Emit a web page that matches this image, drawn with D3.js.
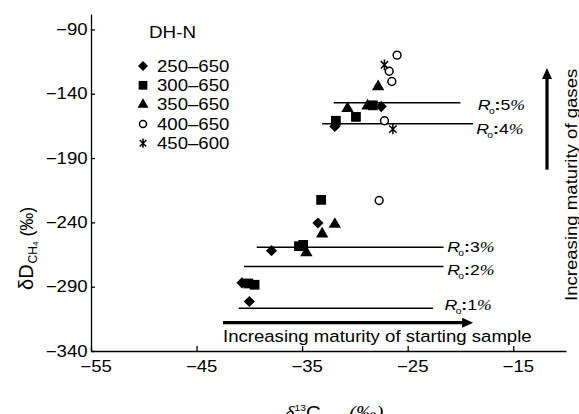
<!DOCTYPE html>
<html>
<head>
<meta charset="utf-8">
<script src="https://cdn.jsdelivr.net/npm/d3@7"></script>
<style>
  body { margin: 0; background: #fff; }
  svg { display: block; font-family: Arial, "Liberation Sans", sans-serif; }
</style>
</head>
<body>
<div id="chart"></div>
<script>
// series names (legend) and their points [δ13C, δD]
var seriesNames = ["250\u2013650", "300\u2013650", "350\u2013650", "400\u2013650", "450\u2013600"];
var s250 = [[-31.9, -165.5], [-27.5, -150], [-33.5, -240.5], [-37.9, -262], [-40.7, -287], [-40.0, -301.5]];
var s300 = [[-31.8, -161], [-29.9, -158], [-28.3, -149], [-33.2, -222.5], [-35.3, -258.5], [-34.9, -257.5], [-40.1, -287.5], [-39.5, -288.5]];
var s350 = [[-30.7, -151.5], [-28.8, -149.5], [-27.8, -134.5], [-31.9, -241.5], [-33.1, -249], [-34.6, -263.5]];
var s400 = [[-26.0, -110], [-26.75, -122.5], [-26.5, -130.5], [-27.2, -161], [-27.7, -223]];
var s450 = [[-27.2, -117.5], [-26.4, -167.5]];

// Ro iso-maturity lines
var roNames = ["5", "4", "3", "2", "1"];
var roY = [-147, -163.3, -259.3, -274.3, -306.7];
var roX1 = [-32.0, -33.1, -39.3, -40.5, -41.0];
var roX2 = [-20.0, -18.8, -21.6, -21.6, -22.6];
var roLabelX = [-18.35, -18.5, -21.25, -21.25, -21.5];
var roLabelY = [-152.3, -171, -262.7, -280.8, -308.1];

// axis ticks
var xTicks = [-55, -45, -35, -25, -15];
var yTicks = [-340, -290, -240, -190, -140, -90];

// annotation arrows (data units)
var startArrow = { x1: -42.5, x2: -18.8, y: -318 };
var gasArrow = { x: -11.8, y1: -199, y2: -120 };

var W = 579, H = 414;
var SX = 1.14; // glyphs in the figure are a bit wide
var svg = d3.select("#chart").append("svg").attr("width", W).attr("height", H);

var x = d3.scaleLinear().domain([-55, -10]).range([91, 566]);
var y = d3.scaleLinear().domain([-340, -78]).range([351, 14]);

function wide(sel) {
    sel.each(function () {
        var t = d3.select(this);
        var tx = +t.attr("x") || 0, ty = +t.attr("y") || 0;
        t.attr("x", null).attr("y", null)
            .attr("transform", "translate(" + tx + "," + ty + ") scale(" + SX + ",1)");
    });
}

// axes
var xAxis = d3.axisBottom(x).tickValues(xTicks).tickSizeInner(-5).tickSizeOuter(0).tickPadding(9);
var yAxis = d3.axisLeft(y).tickValues(yTicks).tickSizeInner(-4).tickSizeOuter(0).tickPadding(3);

var gx = svg.append("g").attr("transform", "translate(0," + y(-340) + ")").call(xAxis);
var gy = svg.append("g").attr("transform", "translate(" + x(-55) + ",0)").call(yAxis);
[gx, gy].forEach(function (g) {
    g.selectAll("path, line").attr("stroke", "#000").attr("stroke-width", 1.3);
    g.selectAll("text").attr("font-size", 16.3).attr("fill", "#000")
        .attr("font-family", "Arial, 'Liberation Sans', sans-serif");
});
gx.selectAll("text").attr("dx", 4);
gy.selectAll("text").attr("transform", "scale(" + SX + ",1)");
gx.selectAll("text").attr("transform", "scale(" + SX + ",1)");

// Ro lines
var roG = svg.append("g");
roNames.forEach(function (n, i) {
    roG.append("line")
        .attr("x1", x(roX1[i])).attr("x2", x(roX2[i]))
        .attr("y1", y(roY[i])).attr("y2", y(roY[i]))
        .attr("stroke", "#000").attr("stroke-width", 1.5);
    var t = roG.append("text").attr("x", x(roLabelX[i])).attr("y", y(roLabelY[i]))
        .attr("font-size", 15.5);
    t.append("tspan").attr("font-style", "italic").text("R");
    t.append("tspan").attr("font-size", 9).attr("dx", -1.5).attr("dy", 4).text("o");
    t.append("tspan").attr("dy", -4).attr("font-weight", "bold").text(":");
    t.append("tspan").text(n);
    t.append("tspan").attr("font-family", "'Liberation Serif', serif").attr("font-style", "italic").text("%");
});
wide(roG.selectAll("text"));

// markers
function asteriskDraw(ctx, size) {
    var r = Math.sqrt(size) * 0.6;
    ctx.moveTo(0, -r); ctx.lineTo(0, r);
    var a = Math.PI / 4;
    ctx.moveTo(-r * Math.cos(a), -r * Math.sin(a)); ctx.lineTo(r * Math.cos(a), r * Math.sin(a));
    ctx.moveTo(r * Math.cos(a), -r * Math.sin(a)); ctx.lineTo(-r * Math.cos(a), r * Math.sin(a));
}
var asterisk = { draw: asteriskDraw };
var styles = [
    { type: d3.symbolSquare, size: 62, rot: 45, fill: "#000", stroke: "none" },
    { type: d3.symbolSquare, size: 95, rot: 0, fill: "#000", stroke: "none" },
    { type: d3.symbolTriangle, size: 66, rot: 0, fill: "#000", stroke: "none" },
    { type: d3.symbolCircle, size: 48, rot: 0, fill: "#fff", stroke: "#000" },
    { type: asterisk, size: 75, rot: 0, fill: "none", stroke: "#000" }
];
var allSeries = [s250, s300, s350, s400, s450];

function mark(g, st, px, py) {
    g.append("path")
        .attr("d", d3.symbol().type(st.type).size(st.size)())
        .attr("transform", "translate(" + px + "," + py + ") rotate(" + st.rot + ")")
        .attr("fill", st.fill).attr("stroke", st.stroke).attr("stroke-width", 1.5);
}
var ptG = svg.append("g");
allSeries.forEach(function (pts, i) {
    pts.forEach(function (p) { mark(ptG, styles[i], x(p[0]), y(p[1])); });
});

// legend
var lg = svg.append("g");
lg.append("text").attr("x", 149).attr("y", 38).attr("font-size", 16.5).text("DH-N");
seriesNames.forEach(function (n, i) {
    var cy = 66 + i * 19.3;
    var st = Object.assign({}, styles[i], { size: styles[i].size * 0.8 });
    mark(lg, st, 143, cy);
    lg.append("text").attr("x", 157).attr("y", cy + 5.8).attr("font-size", 16.3).text(n);
});
wide(lg.selectAll("text"));

// arrows
var ann = svg.append("g");
ann.append("line")
    .attr("x1", x(startArrow.x1)).attr("x2", x(startArrow.x2) - 9)
    .attr("y1", y(startArrow.y)).attr("y2", y(startArrow.y))
    .attr("stroke", "#000").attr("stroke-width", 3.2);
var ax = x(startArrow.x2), ay = y(startArrow.y);
ann.append("path").attr("d", "M" + ax + "," + ay + "L" + (ax - 11) + "," + (ay - 5) + "L" + (ax - 11) + "," + (ay + 5) + "Z");
ann.append("text").attr("x", 223).attr("y", 342).attr("font-size", 16.3)
    .text("Increasing maturity of starting sample");

var vx = x(gasArrow.x), vy = y(gasArrow.y2);
ann.append("line")
    .attr("x1", vx).attr("x2", vx)
    .attr("y1", y(gasArrow.y1)).attr("y2", vy + 9)
    .attr("stroke", "#000").attr("stroke-width", 3.2);
ann.append("path").attr("d", "M" + vx + "," + vy + "L" + (vx - 5) + "," + (vy + 11) + "L" + (vx + 5) + "," + (vy + 11) + "Z");
wide(ann.selectAll("text"));
ann.append("text").attr("transform", "translate(577,301) rotate(-90) scale(" + SX + ",1)")
    .attr("font-size", 16.3).text("Increasing maturity of gases");

// axis titles
var yl = svg.append("text").attr("transform", "translate(33,290) rotate(-90)")
    .attr("font-size", 20);
yl.append("tspan").text("\u03b4D");
yl.append("tspan").attr("font-size", 12).attr("dy", 4).attr("dx", 1).text("CH");
yl.append("tspan").attr("font-size", 8).attr("dy", 1).text("4");
yl.append("tspan").attr("dy", -5).attr("font-size", 18).text(" (\u2030)");

var xl = svg.append("text").attr("transform", "translate(285,419) scale(" + SX + ",1)")
    .attr("font-size", 18);
xl.append("tspan").attr("font-family", "'Liberation Serif', serif").attr("font-style", "italic").text("\u03b4");
xl.append("tspan").attr("font-size", 9).attr("dy", -8).text("13");
xl.append("tspan").attr("dy", 8).text("C");
xl.append("tspan").attr("font-size", 11).attr("dy", 4).text("CH");
xl.append("tspan").attr("font-size", 8).attr("dy", 1).text("4");
xl.append("tspan").attr("dy", -5).attr("font-family", "'Liberation Serif', serif").attr("font-style", "italic").text(" (\u2030)");
</script>
</body>
</html>
